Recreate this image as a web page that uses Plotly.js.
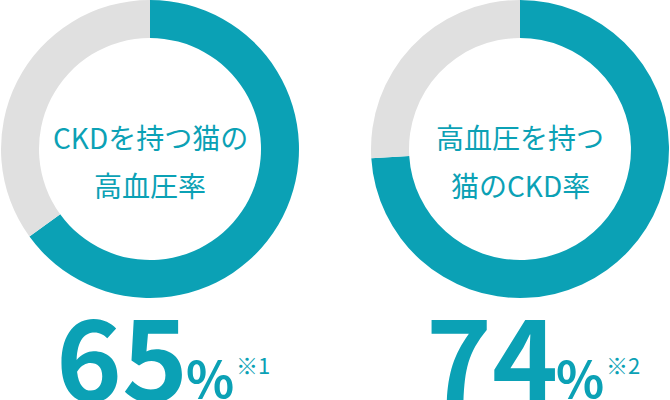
<!DOCTYPE html>
<html>
<head>
<meta charset="utf-8">
<script src="https://cdn.plot.ly/plotly-3.0.1.min.js"></script>
<style>
  html, body { margin: 0; padding: 0; background: #fff; }
  #chart { width: 670px; height: 400px; }
</style>
</head>
<body>
<div id="chart"></div>
<script>
// donut data
const labels = ["該当", "その他"];
const leftValues = [65, 35];
const rightValues = [74, 26];
const leftTitle = ["CKDを持つ猫の", "高血圧率"];
const rightTitle = ["高血圧を持つ", "猫のCKD率"];
const leftNote = "※1";
const rightNote = "※2";

const teal = "#0ba1b5";
const grey = "#e0e0e0";
const font = "Noto Sans CJK JP";

function donut(values, x0, x1) {
  return {
    type: "pie",
    labels: labels,
    values: values,
    hole: 0.745,
    sort: false,
    direction: "clockwise",
    rotation: 0,
    textinfo: "none",
    hoverinfo: "skip",
    marker: { colors: [teal, grey], line: { width: 0 } },
    domain: { x: [x0, x1], y: [0.255, 1] },
    showlegend: false,
  };
}

// px helpers, relative to the donut centre
function px(cx, dx) { return (cx + dx) / 670; }
function py(y) { return 1 - y / 400; }

function texts(title, value, note, cx) {
  let f = (size) => ({ family: font, size: size, color: teal });
  let base = { xref: "paper", yref: "paper", showarrow: false };
  return [
    Object.assign({}, base, { x: px(cx, 0), y: py(137), text: title[0], xanchor: "center", yanchor: "middle", font: f(28) }),
    Object.assign({}, base, { x: px(cx, 0), y: py(185), text: title[1], xanchor: "center", yanchor: "middle", font: f(28) }),
    Object.assign({}, base, { x: px(cx, 40), y: py(269), text: "<b>" + value + "</b>", xanchor: "right", yanchor: "top", font: f(112) }),
    Object.assign({}, base, { x: px(cx, 34), y: py(338), text: "<b>%</b>", xanchor: "left", yanchor: "top", font: f(50) }),
    Object.assign({}, base, { x: px(cx, 84), y: py(346), text: note, xanchor: "left", yanchor: "top", font: f(22) }),
  ];
}

const data = [
  donut(leftValues, 1 / 670, 299 / 670),
  donut(rightValues, 371 / 670, 669 / 670),
];

const layout = {
  width: 670,
  height: 400,
  margin: { l: 0, r: 0, t: 0, b: 0 },
  paper_bgcolor: "#fff",
  plot_bgcolor: "#fff",
  showlegend: false,
  annotations: texts(leftTitle, leftValues[0], leftNote, 150).concat(
    texts(rightTitle, rightValues[0], rightNote, 520)
  ),
};

Plotly.newPlot("chart", data, layout, { displayModeBar: false, staticPlot: true });
</script>
</body>
</html>
